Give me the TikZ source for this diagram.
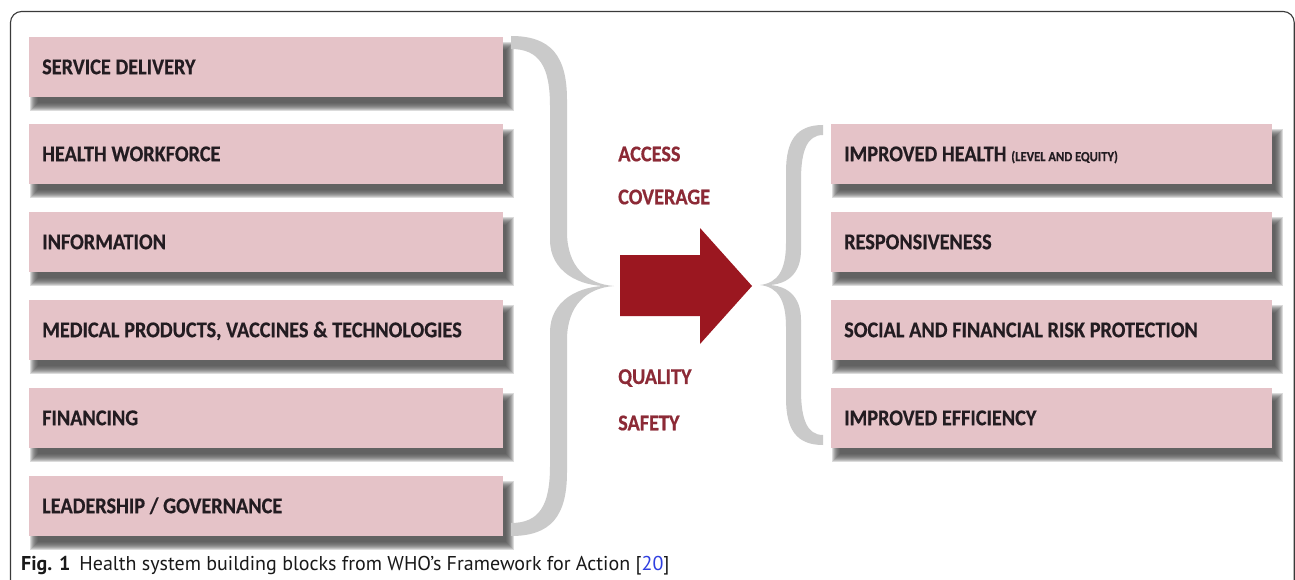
\documentclass[tikz,border=0pt]{standalone}
\usepackage{fontspec}
\setmainfont{Carlito}[FakeStretch=0.9, BoldFeatures={FakeBold=0.5}]
\newfontfamily\capfont{PT Sans}
\definecolor{boxpink}{HTML}{E5C3C8}
\definecolor{txt}{HTML}{231C21}
\definecolor{lab}{HTML}{8C2A36}
\definecolor{arr}{HTML}{9B1720}
\definecolor{bracecol}{HTML}{CACACA}
\definecolor{framecol}{HTML}{3A3A3A}
\definecolor{reflink}{HTML}{2F3FE0}
\newcommand\blockfont{\bfseries\fontsize{22.5}{25}\selectfont\spaceskip=0.21em\relax}
\tikzset{
  blockbox/.style={rectangle, fill=boxpink, anchor=north west, inner xsep=13pt, inner ysep=0pt,
    minimum height=60pt, text height=14pt, text depth=0pt, align=flush left,
    font=\blockfont, text=txt},
  leftbox/.style={blockbox, text width=448pt},
  rightbox/.style={blockbox, text width=415pt},
  lbl/.style={anchor=west, inner sep=0pt, font=\blockfont, text=lab},
  shadowlayer/.style={fill=black!70, opacity=0.2},
}
\newcommand\boxshadow[1]{%
  \foreach \k in {-4,...,4}{%
    \fill[shadowlayer] ([shift={({5-\k},{9-\k})}]#1.north west) rectangle ([shift={({7+\k},{10+\k})}]#1.south east);
  }%
}
\begin{document}
\begin{tikzpicture}[x=1pt,y=-1pt]
\useasboundingbox (0,0) rectangle (1295,580);
\fill[white] (0,0) rectangle (1295,580);
% frame
\draw[framecol, line width=1.1pt, rounded corners=11pt] (10.5,581) -- (10.5,11.5) -- (1294.2,11.5) -- (1294.2,581);

\coordinate (pL1) at (29,37);
\coordinate (pL2) at (29,124);
\coordinate (pL3) at (29,212);
\coordinate (pL4) at (29,300);
\coordinate (pL5) at (29,388);
\coordinate (pL6) at (29,476);
\coordinate (pR1) at (831,124);
\coordinate (pR2) at (831,212);
\coordinate (pR3) at (831,300);
\coordinate (pR4) at (831,388);

% shadows
\foreach \n in {L1,L2,L3,L4,L5,L6}{
  \node[leftbox, fill=none, text opacity=0] (s\n) at (p\n) {};
  \boxshadow{s\n}
}
\foreach \n in {R1,R2,R3,R4}{
  \node[rightbox, fill=none, text opacity=0] (s\n) at (p\n) {};
  \boxshadow{s\n}
}

\node[leftbox] (L1) at (pL1) {SERVICE DELIVERY};
\node[leftbox] (L2) at (pL2) {HEALTH WORKFORCE};
\node[leftbox] (L3) at (pL3) {INFORMATION};
\node[leftbox] (L4) at (pL4) {MEDICAL PRODUCTS, VACCINES \& TECHNOLOGIES};
\node[leftbox] (L5) at (pL5) {FINANCING};
\node[leftbox] (L6) at (pL6) {LEADERSHIP / GOVERNANCE};

\node[rightbox] (R1) at (pR1) {IMPROVED HEALTH {\fontsize{14}{16}\selectfont\spaceskip=0.2em\relax (LEVEL AND EQUITY)}};
\node[rightbox] (R2) at (pR2) {RESPONSIVENESS};
\node[rightbox] (R3) at (pR3) {SOCIAL AND FINANCIAL RISK PROTECTION};
\node[rightbox] (R4) at (pR4) {IMPROVED EFFICIENCY};

% left brace
\fill[bracecol]
  (511,36) .. controls (551,36) and (567,56) .. (567,100) -- (567,232)
  .. controls (567,266) and (586,284) .. (614,286)
  .. controls (577,288) and (550,270) .. (550,240) -- (550,106)
  .. controls (550,66) and (539,49) .. (511,49) -- cycle
  (511,536) .. controls (551,536) and (567,516) .. (567,472) -- (567,340)
  .. controls (567,306) and (586,288) .. (614,286)
  .. controls (577,284) and (550,302) .. (550,332) -- (550,466)
  .. controls (550,506) and (539,523) .. (511,523) -- cycle;

% right brace
\fill[bracecol]
  (823,125) .. controls (796,125) and (786,141) .. (786,172) -- (786,243)
  .. controls (786,270) and (778,283) .. (760,285)
  .. controls (787,287) and (801,274) .. (801,250) -- (801,180)
  .. controls (801,151) and (807,135) .. (823,135) -- cycle
  (823,445) .. controls (796,445) and (786,429) .. (786,398) -- (786,327)
  .. controls (786,300) and (778,287) .. (760,285)
  .. controls (787,283) and (801,296) .. (801,320) -- (801,390)
  .. controls (801,419) and (807,435) .. (823,435) -- cycle;

% arrow
\fill[arr] (620,255) -- (700,255) -- (700,228) -- (752,286) -- (700,344) -- (700,316) -- (620,316) -- cycle;

% labels
\node[lbl] (access) at (618,154) {ACCESS};
\node[lbl] (coverage) at (618,197) {COVERAGE};
\node[lbl] (quality) at (618,378) {QUALITY};
\node[lbl] (safety) at (618,423) {SAFETY};

% caption
\node[anchor=base west, inner sep=0pt, font=\capfont\fontsize{20}{23}\selectfont, text=black!90] (cap) at (21,570)
  {\textbf{Fig. 1}\hspace{9pt}Health system building blocks from WHO’s Framework for Action [\textcolor{reflink}{20}]};
\end{tikzpicture}
\end{document}
